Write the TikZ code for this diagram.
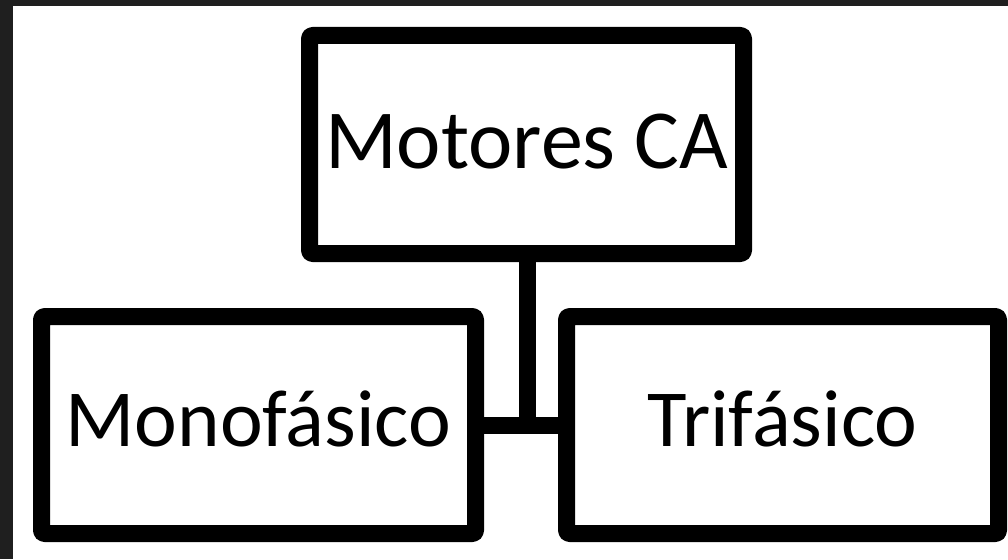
\documentclass[tikz,border=0pt]{standalone}
\usepackage{fontspec}
\setmainfont{Carlito}
\begin{document}
\begin{tikzpicture}[x=1pt,y=-1pt,
  box/.style={draw=black, line width=17pt, rounded corners=3pt, line join=round,
    fill=white, inner sep=0pt, align=center},
  topfont/.style={font=\fontsize{84}{100}\selectfont, text height=47pt, text depth=0pt},
  lowfont/.style={font=\fontsize{81}{96}\selectfont, text height=42pt, text depth=0pt},
  link/.style={draw=black, line width=17pt}]
  % frame: dark border and white sheet
  \fill[black!88] (0,0) rectangle (1008,559);
  \fill[white] (13,6) rectangle (1008,559);
  \useasboundingbox (0,0) rectangle (1008,559);
  % boxes
  \node[box, topfont, minimum width=434pt, minimum height=218pt] (ca) at (526.5,144.5) {Motores CA};
  \node[box, lowfont, minimum width=434pt, minimum height=217pt] (mono) at (258.5,425) {Monofásico};
  \node[box, lowfont, minimum width=432pt, minimum height=217pt] (tri) at (782.5,425) {Trifásico};
  % connectors
  \coordinate (j) at (527,425);
  \draw[link] (mono.east) -- (tri.west);
  \draw[link] (ca.south -| j) -- (j);
\end{tikzpicture}
\end{document}
